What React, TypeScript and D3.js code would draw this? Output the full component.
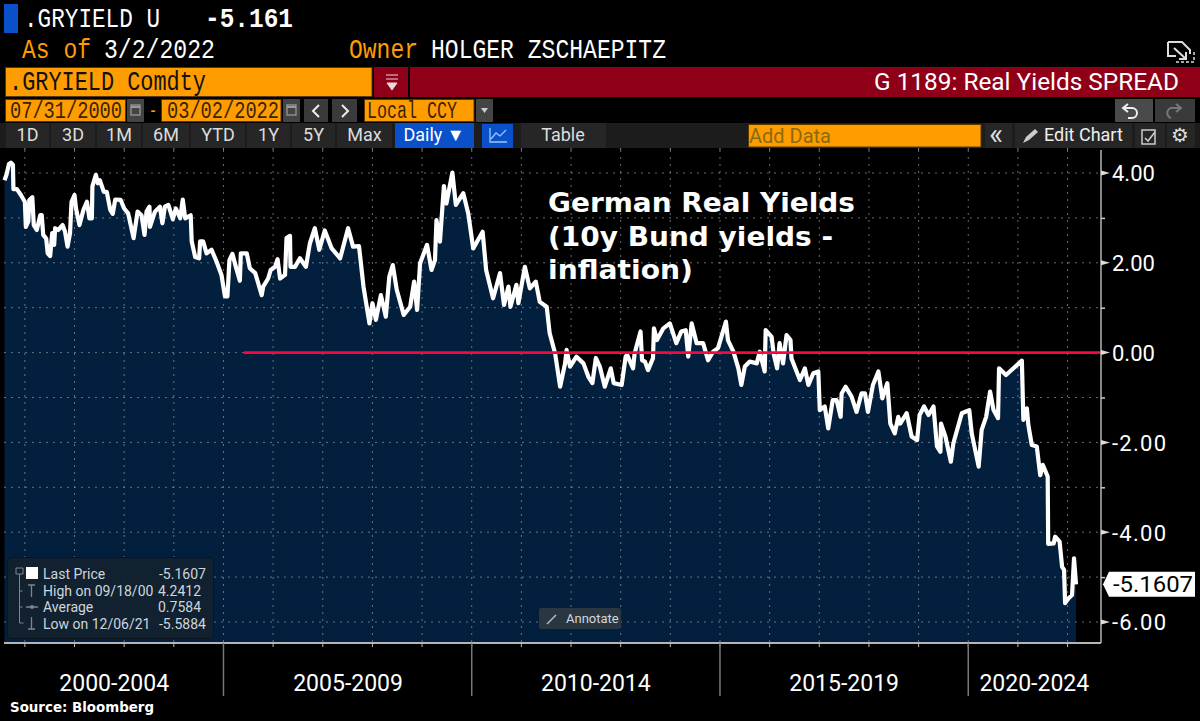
// App.tsx
import React, { useEffect, useRef } from "react";
import { select, scaleLinear, axisRight, area, line, range } from "d3";

const WIDTH = 1200;
const HEIGHT = 721;

const obsYear = [
  2000.59, 2000.63, 2000.68, 2000.72, 2000.76, 2000.77, 2000.84, 2000.92, 2001.0, 2001.02, 2001.07, 2001.09, 2001.15,
  2001.18, 2001.24, 2001.31, 2001.34, 2001.37, 2001.43, 2001.46, 2001.51, 2001.55, 2001.59, 2001.61, 2001.67, 2001.76,
  2001.81, 2001.86, 2001.91, 2001.94, 2002.0, 2002.03, 2002.1, 2002.18, 2002.25, 2002.3, 2002.35, 2002.36, 2002.43,
  2002.47, 2002.51, 2002.59, 2002.65, 2002.72, 2002.77, 2002.82, 2002.93, 2003.0, 2003.08, 2003.19, 2003.24, 2003.27,
  2003.35, 2003.41, 2003.45, 2003.51, 2003.52, 2003.62, 2003.72, 2003.77, 2003.82, 2003.89, 2003.98, 2004.04, 2004.13,
  2004.18, 2004.23, 2004.34, 2004.36, 2004.43, 2004.51, 2004.53, 2004.59, 2004.66, 2004.76, 2004.86, 2004.96, 2005.03,
  2005.08, 2005.12, 2005.18, 2005.25, 2005.33, 2005.35, 2005.47, 2005.53, 2005.64, 2005.77, 2005.8, 2005.9, 2005.95,
  2006.04, 2006.09, 2006.14, 2006.24, 2006.27, 2006.34, 2006.35, 2006.44, 2006.54, 2006.66, 2006.74, 2006.84, 2006.93,
  2007.04, 2007.18, 2007.35, 2007.51, 2007.61, 2007.73, 2007.82, 2007.94, 2008.0, 2008.07, 2008.17, 2008.27, 2008.34,
  2008.41, 2008.49, 2008.63, 2008.76, 2008.84, 2008.9, 2008.96, 2009.1, 2009.19, 2009.26, 2009.29, 2009.36, 2009.44,
  2009.49, 2009.61, 2009.68, 2009.83, 2009.93, 2010.03, 2010.22, 2010.29, 2010.43, 2010.57, 2010.65, 2010.74, 2010.78,
  2010.9, 2010.94, 2011.07, 2011.17, 2011.29, 2011.37, 2011.51, 2011.57, 2011.68, 2011.78, 2011.88, 2011.91, 2011.98,
  2012.11, 2012.25, 2012.35, 2012.43, 2012.5, 2012.58, 2012.68, 2012.8, 2012.86, 2013.02, 2013.1, 2013.13, 2013.25,
  2013.28, 2013.4, 2013.43, 2013.49, 2013.55, 2013.65, 2013.67, 2013.73, 2013.86, 2013.99, 2014.12, 2014.22, 2014.31,
  2014.36, 2014.43, 2014.53, 2014.66, 2014.76, 2014.86, 2014.96, 2015.12, 2015.16, 2015.27, 2015.37, 2015.43, 2015.5,
  2015.6, 2015.74, 2015.8, 2015.9, 2015.92, 2016.04, 2016.08, 2016.15, 2016.2, 2016.27, 2016.34, 2016.42, 2016.44,
  2016.61, 2016.71, 2016.78, 2016.88, 2016.98, 2017.01, 2017.11, 2017.18, 2017.27, 2017.35, 2017.43, 2017.45, 2017.53,
  2017.65, 2017.75, 2017.85, 2017.92, 2017.98, 2018.08, 2018.19, 2018.27, 2018.37, 2018.43, 2018.52, 2018.59, 2018.63,
  2018.76, 2018.86, 2018.97, 2019.02, 2019.11, 2019.2, 2019.3, 2019.37, 2019.44, 2019.45, 2019.54, 2019.65, 2019.7,
  2019.87, 2020.02, 2020.07, 2020.21, 2020.27, 2020.36, 2020.44, 2020.51, 2020.6, 2020.62, 2020.76, 2020.91, 2021.08,
  2021.11, 2021.18, 2021.21, 2021.28, 2021.38, 2021.45, 2021.5, 2021.6, 2021.61, 2021.72, 2021.75, 2021.84, 2021.89,
  2021.93, 2021.95, 2022.02, 2022.09, 2022.13, 2022.17,
];
const obsValue = [
  3.84, 3.96, 4.2, 4.23, 4.18, 3.64, 3.64, 3.51, 3.36, 2.8, 2.92, 3.4, 3.46,
  2.84, 2.73, 3.06, 3.06, 2.62, 2.54, 2.21, 2.15, 2.66, 2.4, 2.77, 2.73, 2.84,
  2.69, 2.36, 2.66, 3.36, 3.51, 3.21, 2.84, 3.18, 3.36, 2.99, 2.99, 3.7, 3.96,
  3.77, 3.84, 3.58, 3.58, 3.18, 3.09, 3.41, 3.4, 3.21, 3.1, 2.55, 2.92, 3.14,
  3.06, 2.62, 3.14, 3.25, 2.8, 3.14, 3.25, 2.88, 3.25, 3.29, 2.97, 3.21, 2.99,
  3.41, 2.99, 3.06, 2.48, 2.13, 2.1, 2.48, 2.48, 2.21, 2.29, 2.03, 1.73, 1.25,
  1.25, 2.06, 2.2, 1.91, 1.6, 2.21, 2.21, 1.88, 1.77, 1.28, 1.47, 1.65, 1.84,
  1.91, 2.08, 1.65, 1.73, 2.55, 2.6, 1.91, 1.91, 2.1, 1.91, 2.43, 2.77, 2.29,
  2.72, 2.32, 2.1, 2.77, 2.36, 2.37, 1.47, 0.65, 1.1, 0.73, 1.28, 0.8, 1.69,
  1.95, 1.4, 0.84, 1.02, 1.58, 0.95, 1.99, 2.4, 1.84, 2.06, 2.95, 2.47, 3.71,
  3.32, 4.01, 3.29, 3.55, 3.1, 2.32, 2.69, 1.84, 1.21, 1.77, 1.06, 1.47, 1.02,
  1.51, 1.1, 1.91, 1.43, 1.58, 1.13, 1.02, 0.43, -0.02, -0.76, -0.24, 0.06, -0.31,
  -0.09, -0.24, -0.54, -0.68, -0.12, -0.31, -0.76, -0.35, -0.68, -0.72, -0.09, -0.05, -0.35,
  -0.02, 0.47, -0.17, -0.2, -0.39, -0.13, 0.54, 0.28, 0.54, 0.65, 0.21, 0.47, 0.5,
  -0.09, 0.65, 0.21, 0.21, -0.17, 0.02, 0.1, 0.69, 0.28, 0.02, -0.35, -0.72, -0.31,
  -0.2, -0.24, 0.02, -0.42, 0.5, 0.35, -0.02, -0.35, 0.21, -0.24, 0.39, 0.28, -0.13,
  -0.61, -0.35, -0.72, -0.46, -0.42, -1.28, -1.2, -1.69, -1.06, -1.06, -1.43, -0.91, -0.76,
  -0.98, -1.32, -0.91, -0.91, -1.32, -0.72, -0.42, -1.02, -0.68, -1.58, -1.8, -1.43, -1.58,
  -1.35, -1.87, -1.95, -1.39, -1.2, -1.39, -1.2, -2.09, -2.21, -1.58, -1.87, -2.43, -2.02,
  -1.35, -1.28, -1.8, -2.54, -1.72, -1.43, -0.87, -1.28, -1.46, -0.35, -0.5, -0.35, -0.18,
  -1.5, -1.24, -1.61, -2.06, -2.09, -2.73, -2.5, -2.76, -4.26, -4.25, -4.1, -4.21, -4.77,
  -4.84, -5.58, -5.47, -5.4, -4.58, -5.1607,
];

const periodLabels = ["2000-2004", "2005-2009", "2010-2014", "2015-2019", "2020-2024"];
const periodCentres = [2002.8, 2007.51, 2012.5, 2017.5, 2021.33];
const periodBreaks = [2005, 2010, 2015, 2020];
const gridYears = range(2001, 2023);
const gridValues = range(-6, 5);
const majorTicks = [4, 2, 0, -2, -4, -6];
const refLineStart = 2005.41;
const lastPrice = "-5.1607";

const noteLines = ["German Real Yields", "(10y Bund yields -", "inflation)"];
const noteWidths = [307, 285, 145];

const legendRows = [
  ["Last Price", "-5.1607"],
  ["High on 09/18/00", "4.2412"],
  ["Average", "0.7584"],
  ["Low on 12/06/21", "-5.5884"],
];

const rangeButtons = ["1D", "3D", "1M", "6M", "YTD", "1Y", "5Y", "Max"];
const rangeEdges = [5, 50, 96, 142, 190, 246, 291, 336, 393];

const ORANGE = "#ff9c00";
const CRIMSON = "#8f0018";
const NAVY = "#021f3d";
const UI_FONT = "Roboto, sans-serif";
const TERM_FONT = "'Liberation Mono', monospace";

const App: React.FC = () => {
  const svgRef = useRef<SVGSVGElement>(null);

  useEffect(() => {
    const svg = select(svgRef.current);
    svg.selectAll("*").remove();

    const xScale = scaleLinear().domain([2000.58, 2022.17]).range([4, 1076]);
    const yScale = scaleLinear().domain([4, -6]).range([173, 622]);
    const plotTop = 150;
    const plotBottom = 643;
    const plotRight = 1101;

    const pts = obsYear.map((y, i) => ({ y, v: obsValue[i] }));

    const txt = (
      parent: any,
      s: string,
      x: number,
      y: number,
      size: number,
      fill: string,
      w?: number,
      font: string = TERM_FONT
    ) => {
      const t = parent
        .append("text")
        .attr("x", x)
        .attr("y", y)
        .attr("font-family", font)
        .attr("font-size", size)
        .attr("fill", fill)
        .text(s);
      if (w) t.attr("textLength", w).attr("lengthAdjust", "spacingAndGlyphs");
      return t;
    };
    const box = (x0: number, y0: number, x1: number, y1: number, fill: string, stroke?: string) =>
      svg
        .append("rect")
        .attr("x", x0)
        .attr("y", y0)
        .attr("width", x1 - x0)
        .attr("height", y1 - y0)
        .attr("fill", fill)
        .attr("stroke", stroke ?? "none");

    // header
    box(4, 4, 18, 33, "#0a50c8");
    txt(svg, ".GRYIELD U", 24, 27, 27, "#fff", 136);
    txt(svg, "-5.161", 205, 27, 27, "#fff", 88).attr("font-weight", "bold");
    txt(svg, "As of", 22, 58, 27, ORANGE, 69);
    txt(svg, "3/2/2022", 104, 58, 27, "#fff", 111);
    txt(svg, "Owner", 349, 58, 27, ORANGE, 69);
    txt(svg, "HOLGER ZSCHAEPITZ", 431, 58, 27, "#fff", 235);

    // expand icon
    svg
      .append("path")
      .attr("d", "M1168 42h14l8 8v4M1168 42v14h8M1174 48l12 11M1186 52v7h-7")
      .attr("fill", "none")
      .attr("stroke", "#ddd")
      .attr("stroke-width", 2);
    svg
      .append("path")
      .attr("d", "M1176 62h18v-12")
      .attr("fill", "none")
      .attr("stroke", "#ddd")
      .attr("stroke-width", 1.5)
      .attr("stroke-dasharray", "3 2");

    // security bar
    box(5.5, 67.5, 372, 96.5, ORANGE, "#5a3800");
    txt(svg, ".GRYIELD Comdty", 9, 90, 27, "#111", 197);
    box(374, 67, 408, 97, CRIMSON);
    svg.append("path").attr("d", "M386 75h12M386 79h12M387 83h10l-5 7z").attr("stroke", "#e8d8d8").attr("fill", "#e8d8d8").attr("stroke-width", 1);
    box(410, 67, 1200, 97, CRIMSON);
    txt(svg, "G 1189: Real Yields SPREAD", 874, 90, 24, "#fff", 305, UI_FONT);

    // date row
    box(5.5, 99.5, 125.5, 121.5, ORANGE, "#5a3800");
    txt(svg, "07/31/2000", 10, 118, 23, "#3a2400", 112);
    box(127, 99, 144, 122, "#444");
    txt(svg, "-", 149, 117, 20, ORANGE, 8);
    box(161.5, 99.5, 281, 121.5, ORANGE, "#5a3800");
    txt(svg, "03/02/2022", 167, 118, 23, "#3a2400", 112);
    box(283, 99, 300, 122, "#444");
    [130, 286].forEach((cx) => {
      svg.append("rect").attr("x", cx + 1).attr("y", 105).attr("width", 9).attr("height", 10).attr("fill", "none").attr("stroke", "#999").attr("stroke-width", 1.3);
      svg.append("path").attr("d", `M${cx + 1} 107h9`).attr("stroke", "#999").attr("stroke-width", 2);
    });
    box(304, 99, 328, 122, "#3a3a3a");
    box(332, 99, 357, 122, "#3a3a3a");
    svg.append("path").attr("d", "M319 105l-6 6 6 6").attr("fill", "none").attr("stroke", "#eee").attr("stroke-width", 2);
    svg.append("path").attr("d", "M342 105l6 6-6 6").attr("fill", "none").attr("stroke", "#eee").attr("stroke-width", 2);
    box(364.5, 99.5, 474, 121.5, ORANGE, "#5a3800");
    txt(svg, "Local CCY", 367, 118, 23, "#3a2400", 90);
    box(476, 99, 493, 122, "#444");
    svg.append("path").attr("d", "M481 108h7l-3.5 5z").attr("fill", "#ccc");
    box(1115, 99, 1153, 122, "#4a4a4a");
    box(1155, 99, 1195, 122, "#3a3a3a");
    svg.append("path").attr("d", "M1128 104l-5 4 5 4M1124 108h8a5 5 0 0 1 0 10h-4").attr("fill", "none").attr("stroke", "#eee").attr("stroke-width", 2);
    svg.append("path").attr("d", "M1176 104l5 4-5 4M1180 108h-6a5 5 0 0 0-3 10").attr("fill", "none").attr("stroke", "#777").attr("stroke-width", 2);

    // range row
    box(0, 123, 1200, 148, "#1c1c1c");
    rangeButtons.forEach((b, i) => {
      box(rangeEdges[i] + 1, 123, rangeEdges[i + 1] - 1, 148, "#262626");
      txt(svg, b, (rangeEdges[i] + rangeEdges[i + 1]) / 2, 141, 18, "#ddd", undefined, UI_FONT).attr("text-anchor", "middle");
    });
    box(395, 123, 474, 148, "#0a50c8");
    txt(svg, "Daily \u25BC", 434, 141, 18, "#fff", undefined, UI_FONT).attr("text-anchor", "middle");
    box(482, 124, 513, 148, "#0a50c8");
    svg.append("path").attr("d", "M490 128v14h17M491 139l5-6 4 3 6-6").attr("fill", "none").attr("stroke", "#9cc4ff").attr("stroke-width", 1.3);
    box(521, 123, 606, 148, "#262626");
    txt(svg, "Table", 563, 141, 18, "#ddd", undefined, UI_FONT).attr("text-anchor", "middle");
    box(748.5, 124.5, 981, 147, ORANGE, "#5a3800");
    txt(svg, "Add Data", 749, 143, 21, "#8a6a10", 82, UI_FONT);
    box(985, 123, 1012, 148, "#262626");
    txt(svg, "\u00AB", 989, 144, 30, "#ddd", undefined, UI_FONT);
    box(1015, 123, 1132, 148, "#262626");
    svg.append("path").attr("d", "M1023 143l3-6 9-8 3 3-9 8z").attr("fill", "#ccc");
    txt(svg, "Edit Chart", 1044, 141, 18, "#eee", undefined, UI_FONT);
    box(1135, 123, 1165, 148, "#262626");
    svg.append("path").attr("d", "M1142 130h13v14h-13zM1145 138l3 3 7-9").attr("fill", "none").attr("stroke", "#ccc").attr("stroke-width", 1.5);
    box(1167, 123, 1195, 148, "#262626");
    txt(svg, "\u2699", 1171, 142, 20, "#ddd", undefined, "'DejaVu Sans'");

    // area and grid
    const clipBelow = area<{ y: number; v: number }>()
      .x((d) => xScale(d.y))
      .y0(plotBottom)
      .y1((d) => yScale(d.v));
    svg.append("path").datum(pts).attr("fill", NAVY).attr("d", clipBelow);

    const grid = svg.append("g").attr("stroke", "#8a8f94").attr("stroke-opacity", 0.75).attr("stroke-dasharray", "2 5");
    gridValues.forEach((v) => {
      grid.append("line").attr("x1", 4).attr("x2", plotRight).attr("y1", yScale(v)).attr("y2", yScale(v));
    });
    gridYears.forEach((y) => {
      grid.append("line").attr("x1", xScale(y)).attr("x2", xScale(y)).attr("y1", plotTop).attr("y2", plotBottom);
    });

    // series
    const lineGen = line<{ y: number; v: number }>()
      .x((d) => xScale(d.y))
      .y((d) => yScale(d.v));
    svg
      .append("path")
      .datum(pts)
      .attr("fill", "none")
      .attr("stroke", "#fff")
      .attr("stroke-width", 4.2)
      .attr("stroke-linejoin", "round")
      .attr("d", lineGen);

    // zero reference line
    svg
      .append("line")
      .attr("x1", xScale(refLineStart))
      .attr("x2", plotRight)
      .attr("y1", yScale(0))
      .attr("y2", yScale(0))
      .attr("stroke", "#f5093f")
      .attr("stroke-width", 2.8);

    // annotation
    noteLines.forEach((s, i) => {
      txt(svg, s, 548, 212 + i * 33.5, 27, "#fff", noteWidths[i], "'DejaVu Sans'").attr("font-weight", "bold");
    });

    // x axis
    svg.append("line").attr("x1", 4).attr("x2", plotRight).attr("y1", plotBottom).attr("y2", plotBottom).attr("stroke", "#b5b5b5").attr("stroke-width", 2);
    gridYears.forEach((y) => {
      svg.append("line").attr("x1", xScale(y)).attr("x2", xScale(y)).attr("y1", plotBottom).attr("y2", plotBottom + 4).attr("stroke", "#bbb");
      svg.append("line").attr("x1", xScale(y)).attr("x2", xScale(y)).attr("y1", plotTop - 2).attr("y2", plotTop).attr("stroke", "#888");
    });
    periodBreaks.forEach((y) => {
      svg.append("line").attr("x1", xScale(y)).attr("x2", xScale(y)).attr("y1", plotBottom).attr("y2", 696).attr("stroke", "#777").attr("stroke-width", 1.5);
    });
    periodLabels.forEach((s, i) => {
      txt(svg, s, xScale(periodCentres[i]), 691, 23, "#fff", undefined, UI_FONT).attr("text-anchor", "middle");
    });

    // y axis
    const yAxisG = svg
      .append("g")
      .attr("transform", `translate(${plotRight},0)`)
      .call(
        axisRight(yScale)
          .tickValues(gridValues)
          .tickSize(4)
          .tickPadding(7)
          .tickFormat((d) => (majorTicks.includes(d as number) ? (d as number).toFixed(2) : ""))
      );
    yAxisG.select(".domain").attr("stroke", "#b5b5b5").attr("stroke-width", 1.5).attr("d", `M0,${plotTop}V${plotBottom}`);
    yAxisG.selectAll(".tick line").attr("stroke", "#ccc").attr("stroke-width", 1.5);
    yAxisG
      .selectAll(".tick text")
      .attr("fill", "#fff")
      .attr("font-family", UI_FONT)
      .attr("font-size", 22)
      .attr("text-anchor", "start")
      .attr("dy", "0.36em")
      .each(function (d) {
        if ((d as number) < 0) select(this as any).attr("textLength", 54).attr("lengthAdjust", "spacing");
      });
    majorTicks.forEach((v) => {
      svg.append("path").attr("d", `M${plotRight} ${yScale(v) - 2.5}L${plotRight + 9} ${yScale(v)}L${plotRight} ${yScale(v) + 2.5}z`).attr("fill", "#ddd");
    });

    // last price tag
    const lastY = yScale(obsValue[obsValue.length - 1]);
    svg
      .append("path")
      .attr("d", `M${plotRight + 2} ${lastY}L${plotRight + 8} ${lastY - 12.5}H1195V${lastY + 12.5}H${plotRight + 8}z`)
      .attr("fill", "#fff");
    txt(svg, lastPrice, 1113, lastY + 8, 22.5, "#000", 80, UI_FONT);

    // legend
    svg.append("rect").attr("x", 7.5).attr("y", 557.5).attr("width", 206).attr("height", 81).attr("rx", 4).attr("fill", "#13222f").attr("fill-opacity", 0.94).attr("stroke", "#0c151d");
    svg.append("rect").attr("x", 26).attr("y", 567).attr("width", 12).attr("height", 12).attr("fill", "#fff");
    svg.append("path").attr("d", "M16 568h7v6h-7zM19.5 574v49h4M19.5 591h3M19.5 607h3").attr("fill", "none").attr("stroke", "#7a8792");
    svg.append("path").attr("d", "M28 585h7M31.5 585v12M26 607h12M28 629h7M31.5 617v12").attr("fill", "none").attr("stroke", "#7a8792").attr("stroke-width", 1.3);
    svg.append("circle").attr("cx", 32).attr("cy", 607).attr("r", 2).attr("fill", "#7a8792");
    legendRows.forEach(([label, val], i) => {
      const y = 579 + i * 16.5;
      txt(svg, label, 43, y, 14, "#ccd6df", undefined, UI_FONT);
      txt(svg, val, val.startsWith("-") ? 159 : 158, y, 14, "#ccd6df", undefined, UI_FONT);
    });

    // annotate button
    svg.append("rect").attr("x", 539).attr("y", 608).attr("width", 82).attr("height", 21).attr("rx", 2).attr("fill", "#2a3742");
    svg.append("path").attr("d", "M547 624l9-9").attr("stroke", "#b5bec6").attr("stroke-width", 1.5);
    txt(svg, "Annotate", 566, 623, 13, "#d0d6db", undefined, UI_FONT);

    // source
    txt(svg, "Source: Bloomberg", 10, 712, 13.5, "#fff", 144, "'DejaVu Sans'").attr("font-weight", "bold");
  }, []);

  return (
    <svg
      ref={svgRef}
      width={WIDTH}
      height={HEIGHT}
      viewBox={`0 0 ${WIDTH} ${HEIGHT}`}
      style={{ position: "absolute", left: 0, top: 0, background: "#000" }}
    />
  );
};

export default App;
